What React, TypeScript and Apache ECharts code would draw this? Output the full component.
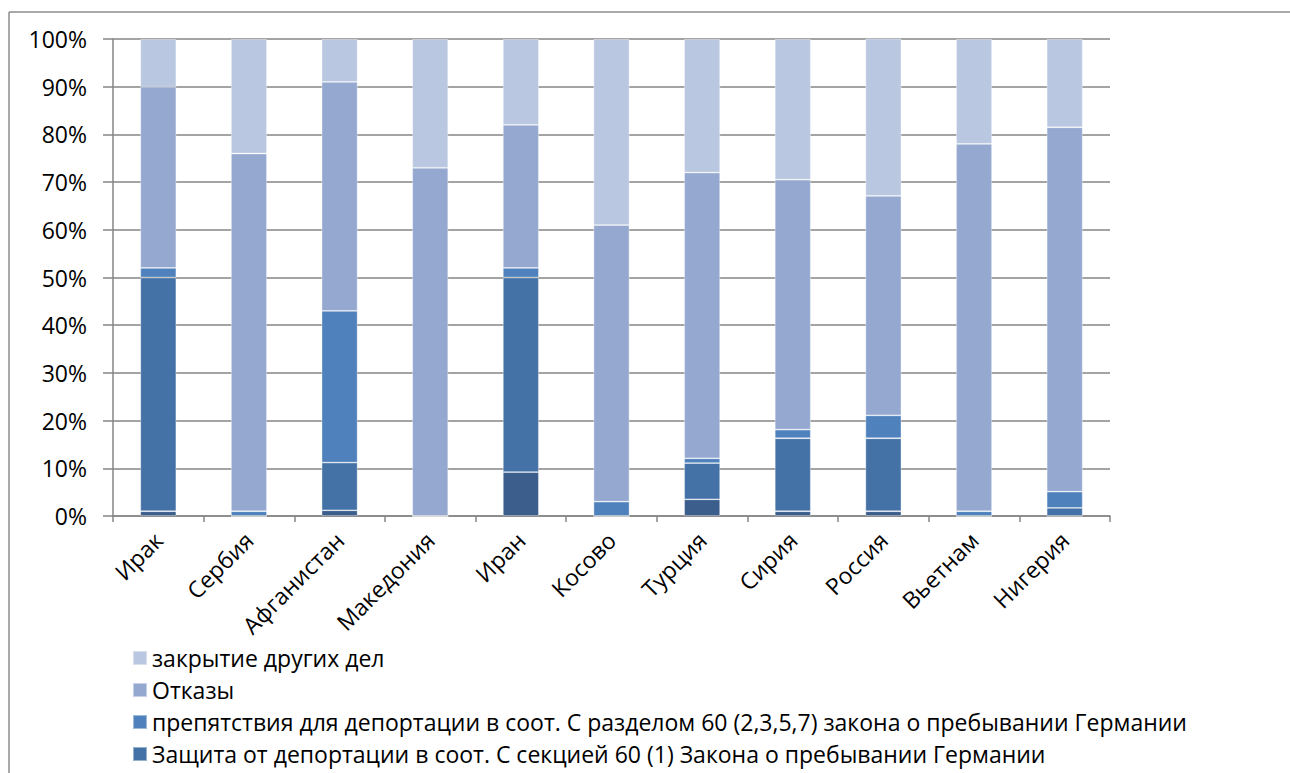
import React, { useEffect, useRef } from "react";
import * as echarts from "echarts";

const categories = ["Ирак", "Сербия", "Афганистан", "Македония", "Иран", "Косово", "Турция", "Сирия", "Россия", "Вьетнам", "Нигерия"];

// bottom-most (darkest) segment, its legend entry is outside the picture
const baseSegment = [1.0, 0, 1.2, 0, 9.2, 0, 3.5, 1.0, 1.0, 0, 0];
const protection = [49.0, 0, 10.0, 0, 40.8, 0, 7.6, 15.3, 15.3, 0, 1.7];
const obstacles = [2.0, 1.0, 31.8, 0, 2.0, 3.0, 1.0, 1.8, 4.8, 1.0, 3.4];
const refusals = [38.0, 75.0, 48.0, 73.0, 30.0, 58.0, 59.9, 52.4, 46.0, 77.0, 76.4];
const otherClosures = [10.0, 24.0, 9.0, 27.0, 18.0, 39.0, 28.0, 29.5, 33.0, 22.0, 18.5];

const yTicks = { min: 0, max: 100, interval: 10 };

const names = {
  base: "Прочее",
  protection: "Защита от депортации в соот. С секцией 60 (1) Закона о пребывании Германии",
  obstacles: "препятствия для депортации в соот. С разделом 60 (2,3,5,7) закона о пребывании Германии",
  refusals: "Отказы",
  other: "закрытие других дел",
};

const FONT = "'Open Sans', 'Noto Sans', sans-serif";

export default function App() {
  const ref = useRef<HTMLDivElement>(null);
  useEffect(() => {
    if (!ref.current) return;
    const chart = echarts.init(ref.current, undefined, { renderer: "svg" });
    const mk = (name: string, data: number[], color: string) => ({
      name,
      type: "bar",
      stack: "total",
      data,
      barWidth: 36,
      itemStyle: { color, borderColor: "rgba(255,255,255,0.45)", borderWidth: 0.8 },
    });
    chart.setOption({
      animation: false,
      textStyle: { fontFamily: FONT },
      graphic: [
        { type: "line", shape: { x1: 9, y1: 12, x2: 1290, y2: 12 }, style: { stroke: "#8c8c8c", lineWidth: 1.5 } },
        { type: "line", shape: { x1: 9, y1: 12, x2: 9, y2: 773 }, style: { stroke: "#8c8c8c", lineWidth: 1.5 } },
      ],
      grid: { left: 113, right: 180, top: 39, bottom: 257, containLabel: false },
      legend: {
        orient: "vertical",
        left: 132,
        top: 646,
        padding: 0,
        itemWidth: 14,
        itemHeight: 14,
        itemGap: 8,
        icon: "rect",
        data: [names.other, names.refusals, names.obstacles, names.protection],
        textStyle: { fontSize: 23, color: "#000", fontFamily: FONT, lineHeight: 24 },
      },
      xAxis: {
        type: "category",
        data: categories,
        axisLine: { lineStyle: { color: "#868686", width: 1.5 } },
        axisTick: { show: true, length: 6, lineStyle: { color: "#868686", width: 1.5 } },
        axisLabel: { rotate: 45, fontSize: 23, color: "#000", margin: 20, fontFamily: FONT },
      },
      yAxis: {
        type: "value",
        min: yTicks.min,
        max: yTicks.max,
        interval: yTicks.interval,
        axisLine: { show: true, lineStyle: { color: "#868686", width: 1.5 } },
        axisTick: { show: true, length: 10, lineStyle: { color: "#868686", width: 1.5 } },
        splitLine: { lineStyle: { color: "#868686", width: 1.5 } },
        axisLabel: { formatter: "{value}%", fontSize: 23, color: "#000", margin: 26, fontFamily: FONT },
      },
      series: [
        mk(names.base, baseSegment, "#3B5E8D"),
        mk(names.protection, protection, "#4472A7"),
        mk(names.obstacles, obstacles, "#4F81BD"),
        mk(names.refusals, refusals, "#95A9D0"),
        mk(names.other, otherClosures, "#B9C7E1"),
      ],
    });
    return () => chart.dispose();
  }, []);
  return (
    <div
      ref={ref}
      style={{ position: "fixed", left: 0, top: 0, width: 1290, height: 773, background: "#fff" }}
    />
  );
}
